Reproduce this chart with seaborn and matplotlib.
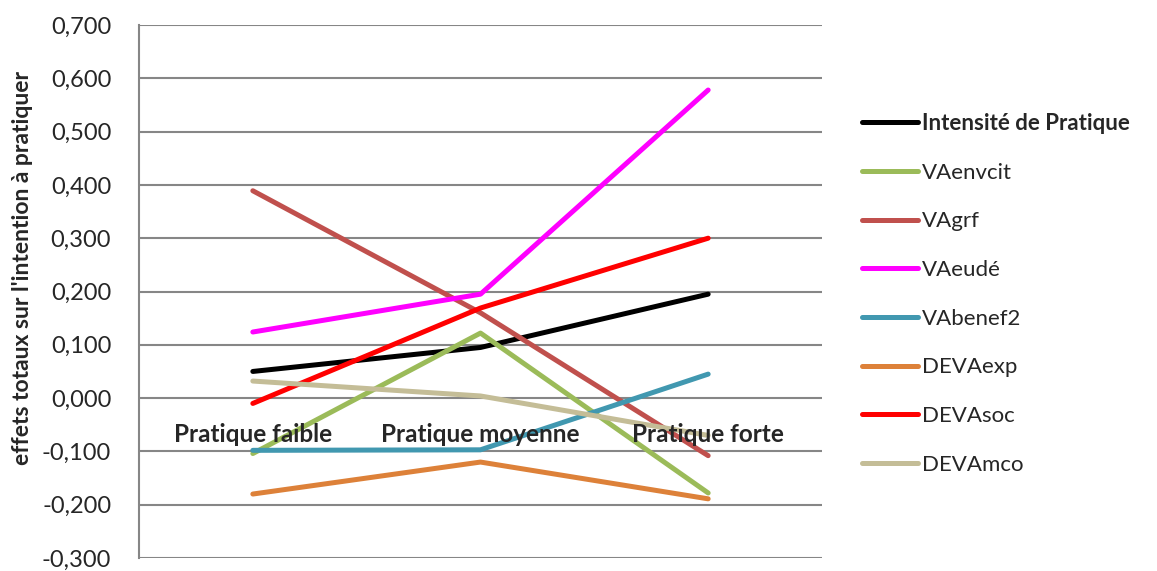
import numpy as np
import pandas as pd
import seaborn as sns
import matplotlib.pyplot as plt
from matplotlib.ticker import FuncFormatter, MultipleLocator

categories = ["Pratique faible", "Pratique moyenne", "Pratique forte"]
series = ["Intensité de Pratique", "VAenvcit", "VAgrf", "VAeudé",
          "VAbenef2", "DEVAexp", "DEVAsoc", "DEVAmco"]

intensite = [0.050, 0.095, 0.195]
vaenvcit = [-0.104, 0.122, -0.178]
vagrf = [0.389, 0.160, -0.108]
vaeude = [0.124, 0.195, 0.578]
vabenef2 = [-0.098, -0.097, 0.045]
devaexp = [-0.180, -0.120, -0.189]
devasoc = [-0.010, 0.169, 0.300]
devamco = [0.032, 0.004, -0.070]

colors = ["#000000", "#9BBB59", "#C0504D", "#FF00FF",
          "#4198B0", "#DD8139", "#FF0000", "#C4BD97"]

values = [intensite, vaenvcit, vagrf, vaeude, vabenef2, devaexp, devasoc, devamco]
rows = []
for name, vals in zip(series, values):
    for i, (cat, v) in enumerate(zip(categories, vals)):
        rows.append({"serie": name, "pos": i, "cat": cat, "val": v})
df = pd.DataFrame(rows)

sns.set_style("white")
plt.rcParams['font.family'] = ['Lato', 'DejaVu Sans']

fig = plt.figure(figsize=(11.57, 5.71), dpi=100)
ax = fig.add_axes([139 / 1157, 1 - 558 / 571, 683 / 1157, 533 / 571])

sns.lineplot(data=df, x="pos", y="val", hue="serie", hue_order=series,
             palette=colors, linewidth=3.6, ax=ax, legend=True,
             solid_capstyle="round")

ax.set_xlim(-0.5, 2.5)
ax.set_ylim(-0.3, 0.7)
ax.yaxis.set_major_locator(MultipleLocator(0.1))
ax.yaxis.set_major_formatter(FuncFormatter(lambda v, p: f"{v:.3f}".replace(".", ",")))
ax.grid(axis="y", color="#868686", linewidth=1.5)
ax.set_axisbelow(True)

for s in ["top", "right", "bottom"]:
    ax.spines[s].set_visible(False)
ax.spines["left"].set_color("#868686")
ax.spines["left"].set_linewidth(1.5)

# category labels sit just under the zero line, like the Excel original
ax.set_xticks([])
for i, cat in enumerate(categories):
    ax.annotate(cat, xy=(i, 0), xytext=(0, -26), textcoords="offset points",
                ha="center", va="center", fontsize=17.5, fontweight="bold",
                zorder=10)

ax.tick_params(axis="y", length=0, labelsize=17, pad=20)
ax.set_xlabel("")
ax.set_ylabel("effets totaux sur l'intention à pratiquer", fontsize=16.5, fontweight="bold")
ax.yaxis.set_label_coords(-0.155, 0.545)

leg = ax.legend(loc="upper left", bbox_to_anchor=(862 / 1157, 1 - 113 / 571),
                bbox_transform=fig.transFigure, frameon=False, fontsize=16,
                borderaxespad=0, borderpad=0,
                handlelength=2.5, handletextpad=0.2, labelspacing=1.29)
for line in leg.get_lines():
    line.set_linewidth(3.6)
leg.get_texts()[0].set_fontweight("bold")

fig.savefig("out.png", dpi=100)
